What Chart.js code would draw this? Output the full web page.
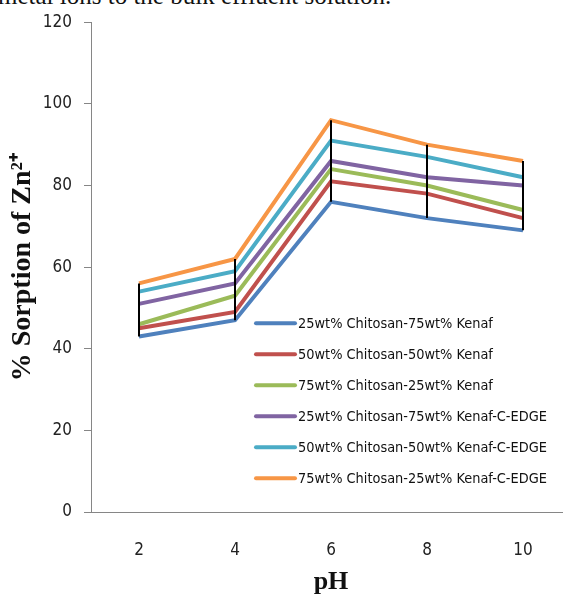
<!DOCTYPE html>
<html>
<head>
<meta charset="utf-8">
<script src="https://cdn.jsdelivr.net/npm/chart.js@4"></script>
<style>
  html, body { margin: 0; padding: 0; background: #fff; overflow: hidden; }
  body { width: 563px; height: 595px; position: relative; }
  #caption {
    position: absolute; left: -2px; top: -17px; white-space: nowrap;
    font: 25px/1 "Liberation Serif", "Times New Roman", serif; color: #111;
  }
  #wrap { position: absolute; left: 0; top: 0; width: 580px; height: 595px; }
</style>
</head>
<body>
<div id="caption">metal ions to the bulk effluent solution.</div>
<div id="wrap"><canvas id="myChart"></canvas></div>
<script>
const labels = ['2', '4', '6', '8', '10'];

const c25k75 = [43, 47, 76, 72, 69];
const c50k50 = [45, 49, 81, 78, 72];
const c75k25 = [46, 53, 84, 80, 74];
const c25k75edge = [51, 56, 86, 82, 80];
const c50k50edge = [54, 59, 91, 87, 82];
const c75k25edge = [56, 62, 96, 90, 86];

const titles = [
  '25wt% Chitosan-75wt% Kenaf',
  '50wt% Chitosan-50wt% Kenaf',
  '75wt% Chitosan-25wt% Kenaf',
  '25wt% Chitosan-75wt% Kenaf-C-EDGE',
  '50wt% Chitosan-50wt% Kenaf-C-EDGE',
  '75wt% Chitosan-25wt% Kenaf-C-EDGE'
];
const colors = ['#4F81BD', '#C0504D', '#9BBB59', '#8064A2', '#4BACC6', '#F79646'];
const series = [c25k75, c50k50, c75k25, c25k75edge, c50k50edge, c75k25edge];

const labelFont = '"Liberation Sans Narrow", "DejaVu Sans Condensed", "Liberation Sans", sans-serif';

// black high-low line at every pH, from the lowest to the highest series
const highLow = {
  id: 'highLow',
  afterDatasetsDraw(chart) {
    const ctx = chart.ctx;
    const x = chart.scales.x, y = chart.scales.y;
    ctx.save();
    ctx.strokeStyle = '#000';
    ctx.lineWidth = 2;
    labels.forEach((l, i) => {
      const vals = chart.data.datasets.map(d => d.data[i]);
      const px = x.getPixelForValue(i);
      ctx.beginPath();
      ctx.moveTo(px, y.getPixelForValue(Math.max(...vals)));
      ctx.lineTo(px, y.getPixelForValue(Math.min(...vals)));
      ctx.stroke();
    });
    ctx.restore();
  }
};

// legend box sitting inside the plot area
const innerLegend = {
  id: 'innerLegend',
  afterDraw(chart) {
    const ctx = chart.ctx;
    const a = chart.chartArea;
    ctx.save();
    ctx.font = '14.4px ' + labelFont;
    ctx.textBaseline = 'middle';
    chart.data.datasets.forEach((d, i) => {
      const yy = a.top + 301 + i * 31;
      ctx.strokeStyle = d.borderColor;
      ctx.lineWidth = 4;
      ctx.lineCap = 'round';
      ctx.beginPath();
      ctx.moveTo(a.left + 165, yy);
      ctx.lineTo(a.left + 204, yy);
      ctx.stroke();
      ctx.fillStyle = '#111';
      ctx.fillText(d.label, a.left + 207, yy + 1);
    });
    ctx.restore();
  }
};

const ctx = document.getElementById('myChart').getContext('2d');

const myChart = new Chart(ctx, {
  type: 'line',
  data: {
    labels: labels,
    datasets: series.map((s, i) => ({
      label: titles[i],
      data: s,
      borderColor: colors[i],
      backgroundColor: colors[i],
      borderWidth: 4,
      pointRadius: 0,
      tension: 0,
      fill: false
    }))
  },
  options: {
    responsive: true,
    maintainAspectRatio: false,
    animation: false,
    layout: { padding: { top: 19, right: 9, bottom: 0, left: 0 } },
    plugins: {
      legend: { display: false },
      tooltip: { enabled: false }
    },
    scales: {
      x: {
        offset: true,
        grid: { display: false },
        border: { display: true, color: '#868686', width: 1 },
        ticks: { color: '#222', font: { family: labelFont, size: 17 }, padding: 20 },
        title: {
          display: true,
          text: 'pH',
          color: '#111',
          font: { family: '"Liberation Serif", serif', size: 26, weight: 'bold', lineHeight: 1 },
          padding: { top: 4, bottom: 0 }
        },
        afterFit(scale) { scale.height = 83; }
      },
      y: {
        min: 0,
        max: 120,
        ticks: { stepSize: 20, color: '#222', font: { family: labelFont, size: 17 }, padding: 12 },
        grid: { drawOnChartArea: false, drawTicks: true, tickLength: 7, color: '#868686' },
        border: { display: true, color: '#868686', width: 1 },
        title: {
          display: true,
          text: '% Sorption of Zn²⁺',
          color: '#111',
          font: { family: '"Liberation Serif", serif', size: 28, weight: 'bold', lineHeight: 1 },
          padding: { top: 9, bottom: 0 }
        },
        afterFit(scale) { scale.width = 91; }
      }
    }
  },
  plugins: [highLow, innerLegend]
});
</script>
</body>
</html>
